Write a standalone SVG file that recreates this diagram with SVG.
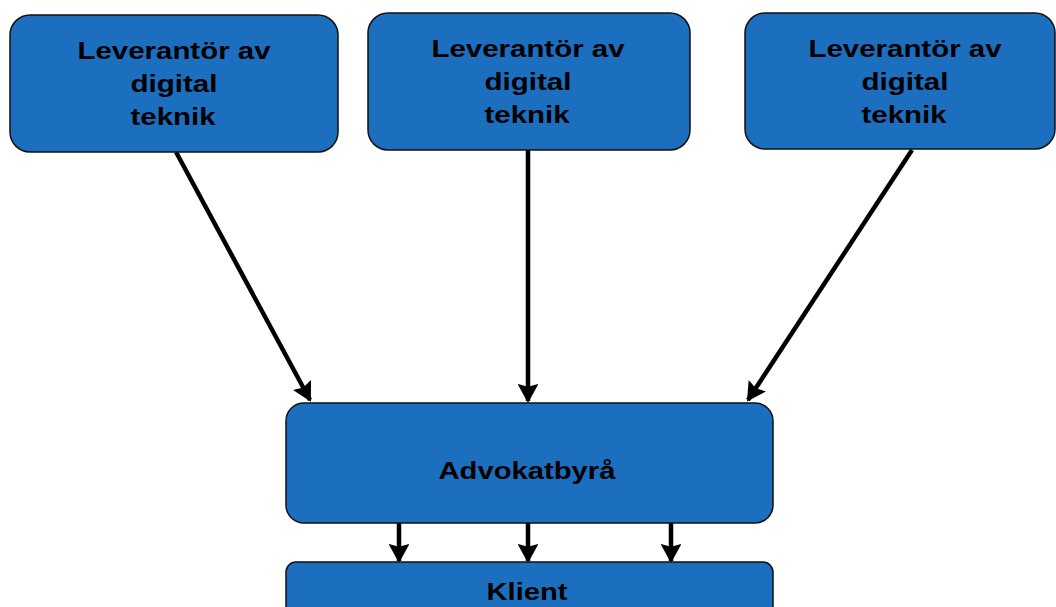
<svg xmlns="http://www.w3.org/2000/svg" width="1056" height="607" viewBox="0 0 1056 607">
<defs>
<style>
.box{fill:#1c6ebf;stroke:#111;stroke-width:1.5}
.t{font-family:"Liberation Sans",Arial,sans-serif;font-weight:bold;font-size:24px;fill:#000;text-anchor:middle}
.c{stroke:#000;stroke-width:4.5;fill:none}
</style>
<marker id="ah" viewBox="0 0 10 10" refX="9" refY="5" markerWidth="4.2" markerHeight="4.6" markerUnits="strokeWidth" orient="auto" preserveAspectRatio="none">
<path d="M0,0 L10,5 L0,10 L1.5,5 Z" fill="#000"/>
</marker>
</defs>
<rect width="1056" height="607" fill="#fff"/>
<g id="connectors">
<line class="c" x1="176" y1="152" x2="310" y2="400" marker-end="url(#ah)"/>
<line class="c" x1="528" y1="150" x2="528" y2="401" marker-end="url(#ah)"/>
<line class="c" x1="912" y1="150" x2="748" y2="400" marker-end="url(#ah)"/>
<line class="c" x1="399" y1="523" x2="399" y2="561" marker-end="url(#ah)"/>
<line class="c" x1="528" y1="523" x2="528" y2="561" marker-end="url(#ah)"/>
<line class="c" x1="671" y1="523" x2="671" y2="561" marker-end="url(#ah)"/>
</g>
<g id="lev1">
<rect class="box" x="10" y="15" width="328" height="137" rx="20"/>
<text class="t" x="174" y="59" textLength="193" lengthAdjust="spacingAndGlyphs">Leverantör av</text>
<text class="t" x="174" y="92" textLength="87" lengthAdjust="spacingAndGlyphs">digital</text>
<text class="t" x="173" y="125" textLength="85" lengthAdjust="spacingAndGlyphs">teknik</text>
</g>
<g id="lev2">
<rect class="box" x="368" y="13" width="322" height="137" rx="20"/>
<text class="t" x="528" y="57" textLength="193" lengthAdjust="spacingAndGlyphs">Leverantör av</text>
<text class="t" x="528" y="90" textLength="87" lengthAdjust="spacingAndGlyphs">digital</text>
<text class="t" x="527" y="123" textLength="85" lengthAdjust="spacingAndGlyphs">teknik</text>
</g>
<g id="lev3">
<rect class="box" x="745" y="13" width="310" height="136" rx="20"/>
<text class="t" x="905" y="57" textLength="193" lengthAdjust="spacingAndGlyphs">Leverantör av</text>
<text class="t" x="905" y="90" textLength="87" lengthAdjust="spacingAndGlyphs">digital</text>
<text class="t" x="904" y="123" textLength="85" lengthAdjust="spacingAndGlyphs">teknik</text>
</g>
<g id="advokat">
<rect class="box" x="286" y="403" width="487" height="120" rx="18"/>
<text class="t" x="527" y="479" textLength="177" lengthAdjust="spacingAndGlyphs">Advokatbyrå</text>
</g>
<g id="klient">
<rect class="box" x="286" y="562" width="487" height="80" rx="10"/>
<text class="t" x="527" y="600" textLength="81" lengthAdjust="spacingAndGlyphs">Klient</text>
</g>
</svg>
